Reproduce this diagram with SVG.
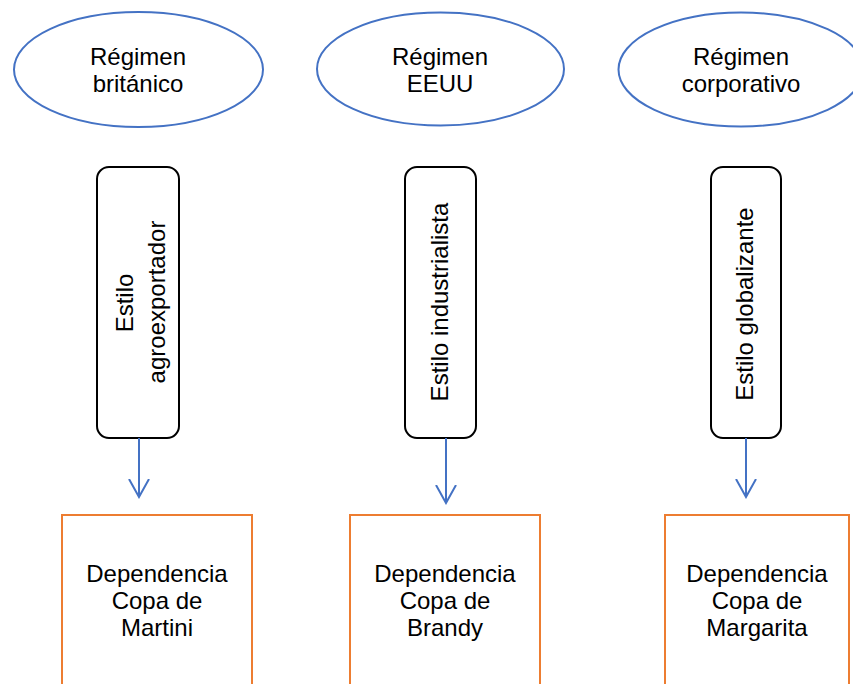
<svg xmlns="http://www.w3.org/2000/svg" width="853" height="684" viewBox="0 0 853 684">
<style>
.ell{fill:#fff;stroke:#4472C4;stroke-width:2}
.rr{fill:#fff;stroke:#000;stroke-width:2}
.ob{fill:#fff;stroke:#ED7D31;stroke-width:2}
.t{font-family:"Liberation Sans",Arial,sans-serif;font-size:24px;fill:#000;text-anchor:middle}
.c{stroke:#4472C4;stroke-width:2;fill:none}
</style>
<defs>
<marker id="ah" viewBox="0 0 20 22" refX="18" refY="11" markerWidth="20" markerHeight="22" markerUnits="userSpaceOnUse" orient="auto">
<path d="M0,1 L18,11 L0,21" fill="none" stroke="#4472C4" stroke-width="2"/>
</marker>
</defs>
<rect width="853" height="684" fill="#fff"/>
<g id="e1"><ellipse class="ell" cx="138.5" cy="69.5" rx="124.5" ry="57.5"/>
<text class="t" x="138" y="65">Régimen</text><text class="t" x="138" y="92">británico</text></g>
<g id="e2"><ellipse class="ell" cx="440.5" cy="69" rx="123.5" ry="56.5"/>
<text class="t" x="440" y="65">Régimen</text><text class="t" x="440" y="92">EEUU</text></g>
<g id="e3"><ellipse class="ell" cx="741" cy="69.5" rx="122.5" ry="57"/>
<text class="t" x="741" y="65">Régimen</text><text class="t" x="741" y="92">corporativo</text></g>
<g id="r1"><rect class="rr" x="97" y="167" width="82" height="271" rx="12"/>
<text class="t" transform="rotate(-90 125 303)" x="125" y="311">Estilo</text>
<text class="t" transform="rotate(-90 157 302)" x="157" y="310">agroexportador</text></g>
<g id="r2"><rect class="rr" x="405" y="167" width="71" height="271" rx="12"/>
<text class="t" transform="rotate(-90 440 302)" x="440" y="310">Estilo industrialista</text></g>
<g id="r3"><rect class="rr" x="711" y="167" width="70" height="271" rx="12"/>
<text class="t" transform="rotate(-90 745 304)" x="745" y="312">Estilo globalizante</text></g>
<g id="connectors">
<line class="c" x1="139" y1="438" x2="139" y2="497" marker-end="url(#ah)"/>
<line class="c" x1="446" y1="438" x2="446" y2="503" marker-end="url(#ah)"/>
<line class="c" x1="746" y1="438" x2="746" y2="497" marker-end="url(#ah)"/>
</g>
<g id="b1"><rect class="ob" x="62" y="515" width="190" height="180"/>
<text class="t" x="157" y="582">Dependencia</text><text class="t" x="157" y="609">Copa de</text><text class="t" x="157" y="636">Martini</text></g>
<g id="b2"><rect class="ob" x="350" y="515" width="190" height="180"/>
<text class="t" x="445" y="582">Dependencia</text><text class="t" x="445" y="609">Copa de</text><text class="t" x="445" y="636">Brandy</text></g>
<g id="b3"><rect class="ob" x="665" y="515" width="184" height="180"/>
<text class="t" x="757" y="582">Dependencia</text><text class="t" x="757" y="609">Copa de</text><text class="t" x="757" y="636">Margarita</text></g>
</svg>
